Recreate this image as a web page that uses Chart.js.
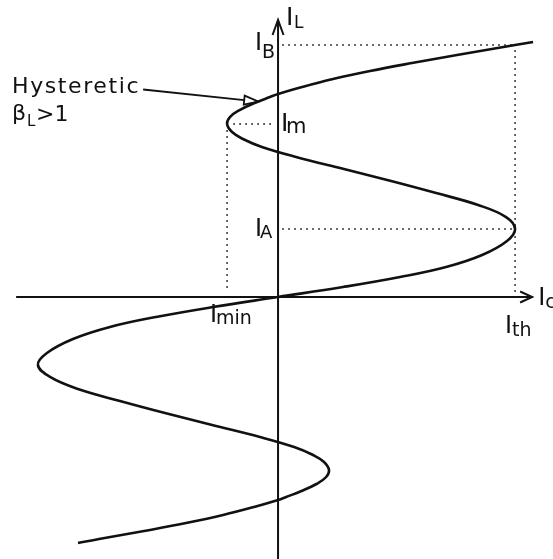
<!DOCTYPE html>
<html>
<head>
<meta charset="utf-8">
<script src="https://cdn.jsdelivr.net/npm/chart.js@4.4.1/dist/chart.umd.min.js"></script>
<style>
  html, body { margin: 0; padding: 0; background: #ffffff; }
  #wrap { width: 553px; height: 559px; position: relative; }
</style>
</head>
<body>
<div id="wrap"><canvas id="c"></canvas></div>
<script>
// Loop current I_L versus applied current, units normalised so that I_th = 1 and I_A = 1.
const appliedCurrent = [
  -0.844, -0.755, -0.565, -0.388, -0.232, -0.101,  0.000,  0.034,  0.099,  0.162,
   0.203,  0.215,  0.194,  0.148,  0.068, -0.076, -0.278, -0.477, -0.667, -0.844,
  -0.962, -1.013, -0.975, -0.865, -0.709, -0.515, -0.274,  0.000,  0.274,  0.515,
   0.709,  0.861,  0.966,  1.000,  0.962,  0.844,  0.667,  0.477,  0.278,  0.076,
  -0.068, -0.148, -0.194, -0.215, -0.203, -0.162, -0.099, -0.034,  0.000,  0.101,
   0.232,  0.388,  0.565,  0.755,  1.000,  1.076
];
const loopCurrent = [
  -3.618, -3.559, -3.441, -3.324, -3.206, -3.088, -2.985, -2.941, -2.853, -2.750,
  -2.647, -2.544, -2.426, -2.324, -2.206, -2.059, -1.882, -1.706, -1.529, -1.353,
  -1.176, -1.000, -0.824, -0.618, -0.441, -0.294, -0.147,  0.000,  0.147,  0.294,
   0.441,  0.618,  0.824,  1.000,  1.176,  1.353,  1.529,  1.706,  1.882,  2.059,
   2.206,  2.324,  2.426,  2.544,  2.647,  2.750,  2.853,  2.941,  2.985,  3.088,
   3.206,  3.324,  3.441,  3.559,  3.706,  3.750
];

// Marked levels on the loop-current axis
const levelNames  = ['B', 'm', 'A'];
const levelValues = [3.706, 2.544, 1.000];
// Marked values on the applied-current axis
const currentNames  = ['min', 'th'];
const currentValues = [-0.215, 1.000];

// Axis extents
const xRange = [-1.173, 1.160];
const yRange = [-3.853, 4.368];
const xAxisSpan = [-1.105, 1.072];
const yAxisTop = 4.074;
// Where the annotation arrow meets the curve
const notePoint = [-0.084, 2.875];

const curve = appliedCurrent.map((v, i) => ({ x: v, y: loopCurrent[i] }));
const lvl = n => levelValues[levelNames.indexOf(n)];
const cur = n => currentValues[currentNames.indexOf(n)];

const FONT = '"DejaVu Sans", sans-serif';
const INK = '#111111';

function seg(ctx, x1, y1, x2, y2) {
  ctx.beginPath(); ctx.moveTo(x1, y1); ctx.lineTo(x2, y2); ctx.stroke();
}

function label(ctx, main, sub, x, base, subX, subBase, mainSize, subSize) {
  ctx.font = mainSize + 'px ' + FONT;
  ctx.fillText(main, x, base);
  ctx.font = subSize + 'px ' + FONT;
  ctx.fillText(sub, subX, subBase);
}

const diagram = {
  id: 'diagram',
  beforeDatasetsDraw(chart) {
    const { ctx, scales: { x, y } } = chart;
    const X = v => x.getPixelForValue(v), Y = v => y.getPixelForValue(v);
    ctx.save();

    // dotted guide lines
    ctx.strokeStyle = '#2e2e2e';
    ctx.lineWidth = 1.9;
    ctx.lineCap = 'round';
    ctx.setLineDash([0, 6]);
    const xTh = X(cur('th')), xMin = X(cur('min')), x0 = X(0), y0 = Y(0);
    seg(ctx, x0 + 5, Y(lvl('B')), xTh, Y(lvl('B')));
    seg(ctx, xTh, Y(lvl('B')) + 6, xTh, y0 - 5);
    seg(ctx, xMin + 7, Y(lvl('m')), x0 - 4, Y(lvl('m')));
    seg(ctx, xMin, Y(lvl('m')) + 7, xMin, y0 - 5);
    seg(ctx, x0 + 5, Y(lvl('A')), xTh, Y(lvl('A')));

    // axes
    ctx.setLineDash([]);
    ctx.lineCap = 'butt';
    ctx.lineJoin = 'miter';
    ctx.strokeStyle = INK;
    ctx.lineWidth = 2;
    const xTip = X(xAxisSpan[1]), yTip = Y(yAxisTop);
    seg(ctx, X(xAxisSpan[0]), y0, xTip, y0);
    seg(ctx, x0, y.bottom, x0, yTip);
    // open arrow heads
    ctx.beginPath();
    ctx.moveTo(xTip - 12, y0 - 5.5); ctx.lineTo(xTip, y0); ctx.lineTo(xTip - 12, y0 + 5.5);
    ctx.stroke();
    ctx.beginPath();
    ctx.moveTo(x0 - 5.5, yTip + 15); ctx.lineTo(x0, yTip); ctx.lineTo(x0 + 5.5, yTip + 15);
    ctx.stroke();
    ctx.restore();
  },
  afterDatasetsDraw(chart) {
    const { ctx, scales: { x, y } } = chart;
    const X = v => x.getPixelForValue(v), Y = v => y.getPixelForValue(v);
    ctx.save();
    ctx.fillStyle = INK;
    ctx.strokeStyle = INK;
    ctx.textBaseline = 'alphabetic';
    const x0 = X(0), y0 = Y(0);

    // axis titles
    label(ctx, 'I', 'L', x0 + 8, Y(yAxisTop) + 5, x0 + 16, Y(yAxisTop) + 8, 25, 17);
    label(ctx, 'I', 'c', X(xAxisSpan[1]) + 6, y0 + 8, X(xAxisSpan[1]) + 13, y0 + 11, 24, 19);

    // level labels
    label(ctx, 'I', 'B', x0 - 23, Y(lvl('B')) + 5, x0 - 16, Y(lvl('B')) + 13, 24, 19);
    label(ctx, 'I', 'm', x0 + 3, Y(lvl('m')) + 7, x0 + 8, Y(lvl('m')) + 9, 25, 21);
    label(ctx, 'I', 'A', x0 - 23, Y(lvl('A')) + 7, x0 - 18, Y(lvl('A')) + 9, 24, 18);

    // applied-current labels
    label(ctx, 'I', 'min', X(cur('min')) - 17, y0 + 25, X(cur('min')) - 11, y0 + 27, 24, 19);
    label(ctx, 'I', 'th', X(cur('th')) - 10, y0 + 36, X(cur('th')) - 3, y0 + 39, 24, 19);

    // annotation
    ctx.font = '22px ' + FONT;
    ctx.letterSpacing = '1.6px';
    ctx.fillText('Hysteretic', 12, 93);
    ctx.letterSpacing = '0px';
    ctx.font = '22px ' + FONT;
    ctx.fillText('\u03B2', 12, 120);
    ctx.font = '15px ' + FONT;
    ctx.fillText('L', 27, 126);
    ctx.font = '22px ' + FONT;
    ctx.fillText('>1', 36, 121);

    const tx = X(notePoint[0]), ty = Y(notePoint[1]);
    const sx = tx - 115, sy = ty - 12;
    const ang = Math.atan2(ty - sy, tx - sx);
    const ux = Math.cos(ang), uy = Math.sin(ang);
    const bx = tx - 14 * ux, by = ty - 14 * uy;
    ctx.lineWidth = 1.8;
    seg(ctx, sx, sy, bx, by);
    ctx.beginPath();
    ctx.moveTo(tx, ty);
    ctx.lineTo(bx - 4.5 * uy, by + 4.5 * ux);
    ctx.lineTo(bx + 4.5 * uy, by - 4.5 * ux);
    ctx.closePath();
    ctx.stroke();
    ctx.restore();
  }
};

new Chart(document.getElementById('c'), {
  type: 'scatter',
  data: {
    datasets: [{
      data: curve,
      showLine: true,
      borderColor: INK,
      borderWidth: 2.6,
      pointRadius: 0,
      tension: 0.4,
      fill: false
    }]
  },
  options: {
    responsive: true,
    maintainAspectRatio: false,
    animation: false,
    layout: { padding: 0 },
    plugins: { legend: { display: false }, tooltip: { enabled: false } },
    scales: {
      x: { type: 'linear', min: xRange[0], max: xRange[1], display: false },
      y: { type: 'linear', min: yRange[0], max: yRange[1], display: false }
    }
  },
  plugins: [diagram]
});
</script>
</body>
</html>
